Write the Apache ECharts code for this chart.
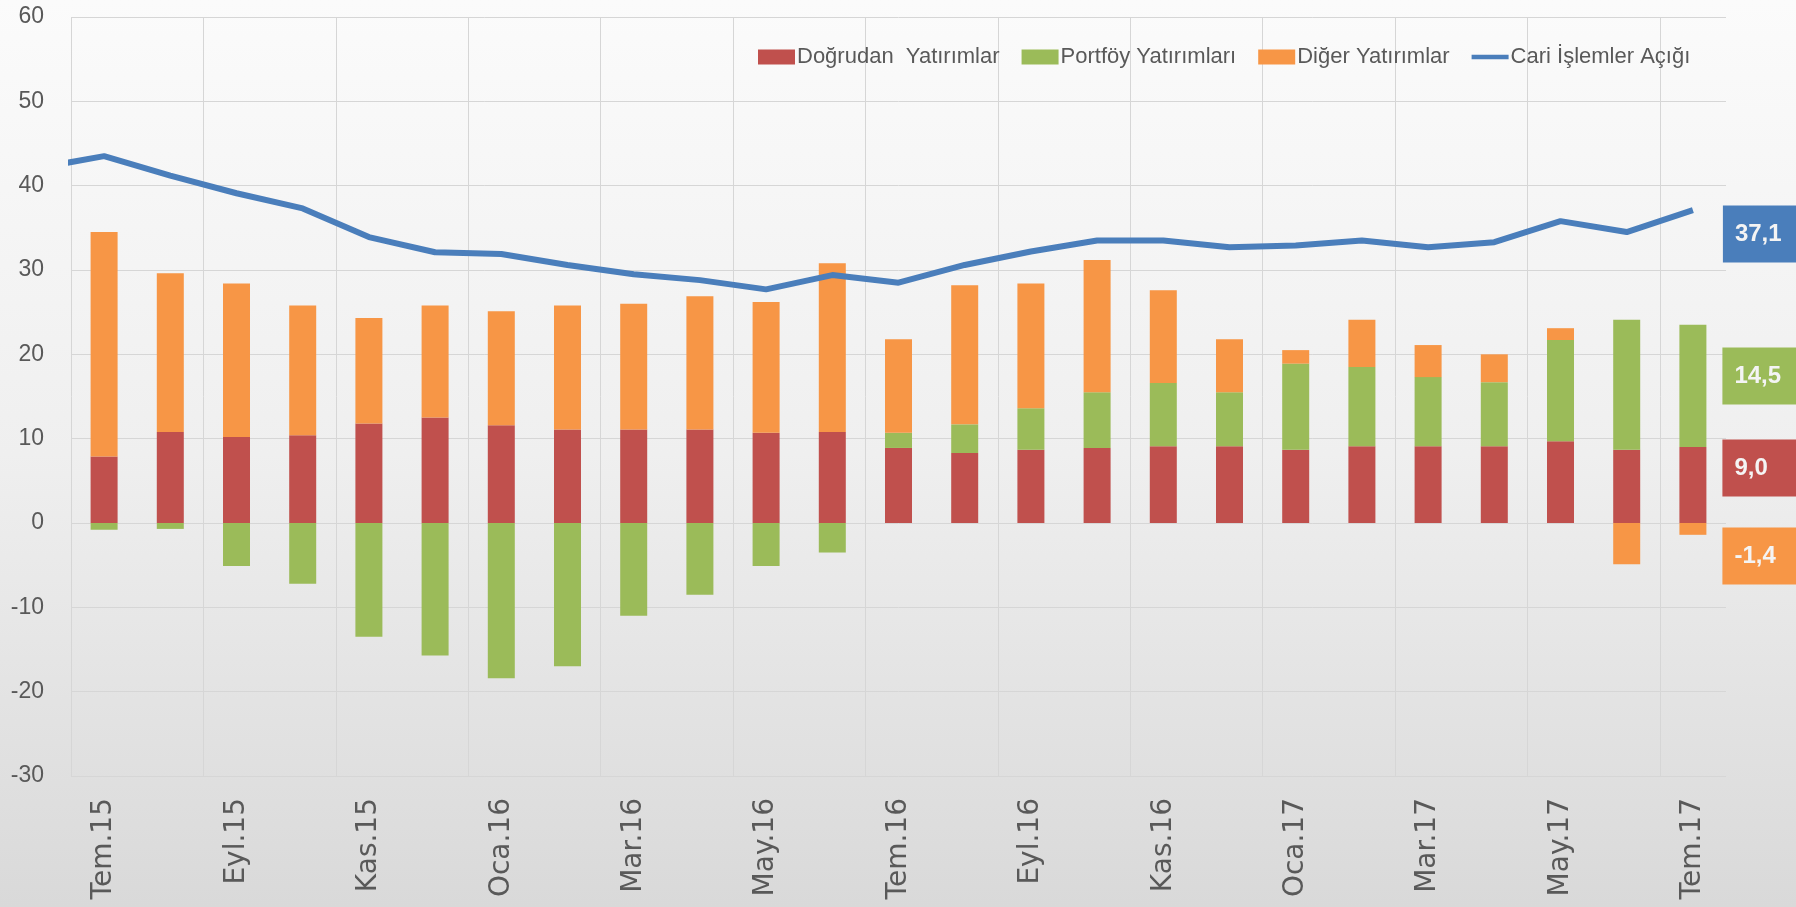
<!DOCTYPE html>
<html>
<head>
<meta charset="utf-8">
<script src="https://cdn.jsdelivr.net/npm/echarts@6/dist/echarts.min.js"></script>
<style>
html,body{margin:0;padding:0;width:1796px;height:907px;overflow:hidden;background:#fff;}
#c{width:1796px;height:907px;}
</style>
</head>
<body>
<div id="c"></div>
<script>
// ---- data ----
const categories = ['Tem.15','Ağu.15','Eyl.15','Eki.15','Kas.15','Ara.15','Oca.16','Şub.16','Mar.16','Nis.16','May.16','Haz.16','Tem.16','Ağu.16','Eyl.16','Eki.16','Kas.16','Ara.16','Oca.17','Şub.17','Mar.17','Nis.17','May.17','Haz.17','Tem.17'];
const dogrudan = [7.9,10.8,10.2,10.4,11.8,12.5,11.6,11.1,11.1,11.1,10.7,10.8,8.9,8.3,8.7,8.9,9.1,9.1,8.7,9.1,9.1,9.1,9.7,8.7,9.0];
const portfoy  = [-0.8,-0.7,-5.1,-7.2,-13.5,-15.7,-18.4,-17.0,-11.0,-8.5,-5.1,-3.5,1.8,3.4,4.9,6.6,7.5,6.4,10.2,9.4,8.2,7.6,12.0,15.4,14.5];
const diger    = [26.6,18.8,18.2,15.4,12.5,13.3,13.5,14.7,14.9,15.8,15.5,20.0,11.1,16.5,14.8,15.7,11.0,6.3,1.6,5.6,3.8,3.3,1.4,-4.9,-1.4];
const cari     = [43.5,41.2,39.1,37.3,33.9,32.1,31.9,30.6,29.5,28.8,27.7,29.4,28.5,30.6,32.2,33.5,33.5,32.7,32.9,33.5,32.7,33.3,35.8,34.5,37.1];
const cariPrev = 42.1; // Haz.15, only its segment toward Tem.15 is visible
const seriesNames = ['Doğrudan  Yatırımlar','Portföy Yatırımları','Diğer Yatırımlar','Cari İşlemler Açığı'];
const yTicks = {min:-30, max:60, step:10};

// ---- styles ----
const C_RED='#C0504D', C_GREEN='#9BBB59', C_ORANGE='#F79646', C_BLUE='#4A7EBB';
const GRID_C = '#d6d6d6';
const fmt = v => v.toFixed(1).replace('.', ',');
const narrow = '"Liberation Sans Narrow","Arial Narrow","Liberation Sans",sans-serif';
const last = categories.length - 1;

function boxLabel(color, offY){
  return {
    show:true, position:'right', distance:16, offset:[0,offY],
    formatter: p => fmt(Array.isArray(p.value)?p.value[1]:p.value),
    backgroundColor:color, color:'#f4f4f4',
    fontFamily:narrow, fontWeight:'bold', fontSize:24,
    lineHeight:25, padding:[16,12,16,12], width:56, align:'left'
  };
}
function withLastLabel(arr, color, offY){
  return arr.map((v,i)=> i===last ? {value:v, label:boxLabel(color, offY)} : v);
}

const lineData = [[-1, cariPrev]].concat(cari.map((v,i)=>[i, v]));
// vertical grid lines every 2nd month boundary; the closing right boundary is not drawn
const vLineCount = Math.floor(last/2) + 1;
const vLineColors = Array(vLineCount).fill(GRID_C).concat(['rgba(0,0,0,0)']);

const chart = echarts.init(document.getElementById('c'), null, {renderer:'canvas'});
chart.setOption({
  backgroundColor: new echarts.graphic.LinearGradient(0,0,0,1,[
    {offset:0,color:'#fbfbfb'},{offset:0.5,color:'#efefef'},{offset:1,color:'#d9d9d9'}
  ]),
  animation:false,
  grid:{left:71, right:70, top:17, bottom:131, containLabel:false},
  legend:{
    left:753, top:41, itemWidth:37, itemHeight:15, itemGap:22,
    textStyle:{fontFamily:narrow, fontSize:22, color:'#595959', padding:[0,0,0,-3]},
    data:[
      {name:seriesNames[0], icon:'rect'},
      {name:seriesNames[1], icon:'rect'},
      {name:seriesNames[2], icon:'rect'},
      {name:seriesNames[3], icon:'path://M0,0 L42,0 L42,5 L0,5 Z', itemStyle:{color:C_BLUE}}
    ]
  },
  xAxis:[
    {
      type:'category', data:categories, boundaryGap:true,
      axisLine:{show:false}, axisTick:{show:false},
      axisLabel:{interval:1, rotate:90, margin:22, fontSize:28, color:'#595959', fontFamily:'"DejaVu Sans",sans-serif'},
      splitLine:{show:true, interval:1, lineStyle:{color:vLineColors, width:1}}
    },
    {
      type:'value', min:-0.5, max:last+0.5, show:false
    }
  ],
  yAxis:{
    type:'value', min:yTicks.min, max:yTicks.max, interval:yTicks.step,
    axisLine:{show:false}, axisTick:{show:false},
    axisLabel:{margin:27, fontSize:23, color:'#595959', fontFamily:narrow},
    splitLine:{lineStyle:{color:GRID_C, width:1}}
  },
  series:[
    {name:seriesNames[0], type:'bar', stack:'s', barWidth:27, itemStyle:{color:C_RED},
     data:withLastLabel(dogrudan, C_RED, -17)},
    {name:seriesNames[1], type:'bar', stack:'s', barWidth:27, itemStyle:{color:C_GREEN},
     data:withLastLabel(portfoy, C_GREEN, -10)},
    {name:seriesNames[2], type:'bar', stack:'s', barWidth:27, itemStyle:{color:C_ORANGE},
     data:withLastLabel(diger, C_ORANGE, 27)},
    {name:seriesNames[3], type:'line', xAxisIndex:1, data:lineData,
     symbol:'none', showSymbol:false, clip:true, z:5,
     lineStyle:{color:C_BLUE, width:6}, itemStyle:{color:C_BLUE},
     endLabel:Object.assign(boxLabel(C_BLUE, 24), {distance:30})}
  ]
});
</script>
</body>
</html>
